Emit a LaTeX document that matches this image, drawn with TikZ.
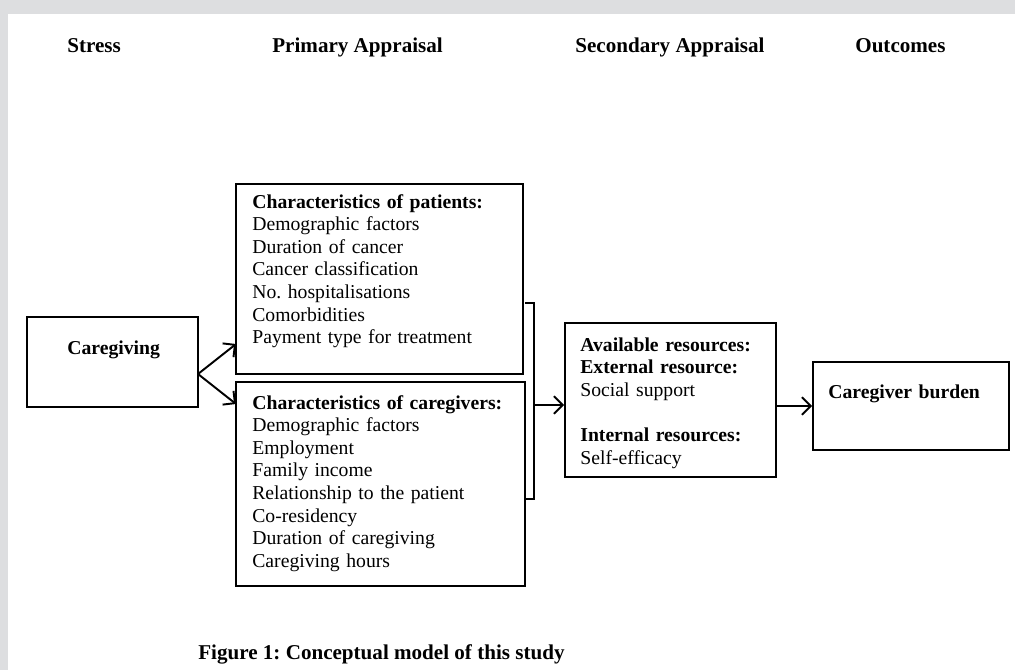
\documentclass[tikz,border=0pt]{standalone}
\usepackage{fontspec}
\setmainfont{Liberation Serif}
\usetikzlibrary{arrows.meta}
\definecolor{framegray}{RGB}{221,222,224}
\frenchspacing

\begin{document}
\begin{tikzpicture}[x=0.02cm, y=-0.02cm,
  box/.style={draw=black, line width=1.1pt, inner sep=0pt},
  head/.style={anchor=base west, inner sep=0pt, font=\fontsize{12}{14}\selectfont\bfseries},
  body/.style={anchor=base west, inner sep=0pt, align=left, text width=5.5cm, font=\fontsize{11.2}{12.9}\selectfont},
  arr/.style={line width=1.1pt, -{Straight Barb[length=5pt,width=10pt]}}]
        \useasboundingbox (0,0) rectangle (1015,670);
        \fill[framegray] (0,0) rectangle (1015,670);
        \fill[white] (8,14) rectangle (1015,670);
        % column heads
        \node[head] (hs) at (67,52) {Stress};
        \node[head] (hp) at (272,52) {Primary Appraisal};
        \node[head] (hsa) at (575,52) {Secondary Appraisal};
        \node[head] (ho) at (855,52) {Outcomes};
        % boxes
        \node[box, minimum width=3.42cm, minimum height=1.8cm] (care) at (112.5,362) {};
        \node[box, minimum width=5.74cm, minimum height=3.8cm] (pat) at (379.5,279) {};
        \node[box, minimum width=5.78cm, minimum height=4.08cm] (cg) at (380.5,484) {};
        \node[box, minimum width=4.22cm, minimum height=3.08cm] (res) at (670.5,400) {};
        \node[box, minimum width=3.92cm, minimum height=1.76cm] (bur) at (911,406) {};
        % box texts
        \node[body, font=\fontsize{11.2}{12.9}\selectfont\bfseries] (careT) at (67,354) {Caregiving};
        \node[body] (patT) at (252,208) {\textbf{Characteristics of patients:}\\
          Demographic factors\\ Duration of cancer\\ Cancer classification\\
          No. hospitalisations\\ Comorbidities\\ Payment type for treatment};
        \node[body] (cgT) at (252,409) {\textbf{Characteristics of caregivers:}\\
          Demographic factors\\ Employment\\ Family income\\
          Relationship to the patient\\ Co-residency\\ Duration of caregiving\\ Caregiving hours};
        \node[body, text width=4cm] (resT) at (580,351) {\textbf{Available resources:}\\
          \textbf{External resource:}\\ Social support\\[12.9pt]
          \textbf{Internal resources:}\\ Self-efficacy};
        \node[body, font=\fontsize{11.2}{12.9}\selectfont\bfseries] (burT) at (828,398) {Caregiver burden};
        % connectors
        \coordinate (fork) at (198,374);
        \coordinate (patin) at (236,344);
        \coordinate (cgin) at (236,404);
        \draw[arr] (fork) -- (patin);
        \draw[arr] (fork) -- (cgin);
        \coordinate (bt) at (525,303);
        \coordinate (bb) at (525,499);
        \coordinate (bm) at (534,405);
        \draw[line width=1.1pt] (bt) -- ++(9,0) -- ++(0,196) -- (bb);
        \draw[arr] (bm) -- (res.west |- bm);
        \draw[arr] (res.east |- bur.west) -- (bur.west);
        % caption
        \node[head] (cap) at (198,659) {Figure 1: Conceptual model of this study};
      \end{tikzpicture}
\end{document}
